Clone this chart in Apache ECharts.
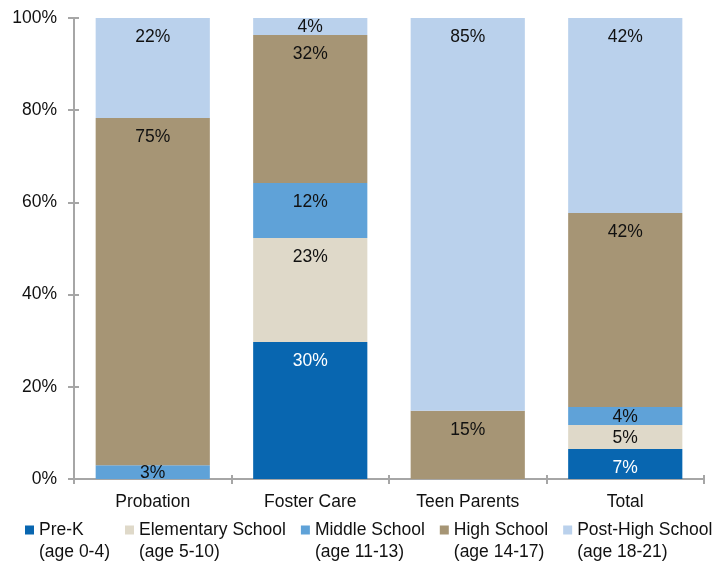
<!DOCTYPE html>
<html>
<head>
<meta charset="utf-8">
<script src="https://cdn.jsdelivr.net/npm/echarts@6/dist/echarts.min.js"></script>
<style>html,body{margin:0;padding:0;background:#fff}#c{width:716px;height:561px}</style>
</head>
<body>
<div id="c"></div>
<script>
var categories = ['Probation', 'Foster Care', 'Teen Parents', 'Total'];
var seriesNames = ['Pre-K\n(age 0-4)', 'Elementary School\n(age 5-10)', 'Middle School\n(age 11-13)', 'High School\n(age 14-17)', 'Post-High School\n(age 18-21)'];
var preK = [null, 29.7, null, 6.5];
var elementary = [null, 22.6, null, 5.2];
var middle = [3.0, 11.9, null, 3.9];
var high = [75.3, 32.1, 14.8, 42.1];
var postHigh = [21.7, 3.7, 85.2, 42.3];
var yTicks = [0, 20, 40, 60, 80, 100];

var colors = ['#0866B0', '#DFD9C9', '#5FA2D8', '#A69575', '#BAD1EC'];
var labelColors = ['#ffffff', '#111', '#111', '#111', '#111'];
var allData = [preK, elementary, middle, high, postHigh];
var FONT = 'Liberation Sans, Arial, sans-serif';
var FS = 17.5;
var axisGray = '#A6A6A6';

var series = allData.map(function (arr, i) {
  return {
    name: seriesNames[i],
    type: 'bar',
    stack: 'all',
    barWidth: '72.5%',
    xAxisIndex: 0,
    yAxisIndex: 0,
    itemStyle: { color: colors[i] },
    label: {
      show: true,
      color: labelColors[i],
      fontFamily: FONT,
      fontSize: FS,
      formatter: function (p) { return p.value == null ? '' : Math.round(p.value) + '%'; }
    },
    data: arr.map(function (v) {
      return {
        value: v,
        label: (v != null && v < 6) ? { position: 'inside', offset: [0, 1] } : { position: 'insideTop', distance: 10 }
      };
    })
  };
});

var chart = echarts.init(document.getElementById('c'), null, { renderer: 'canvas' });
chart.setOption({
  animation: false,
  backgroundColor: '#ffffff',
  grid: { left: 74, right: 12, top: 18, bottom: 82 },
  legend: {
    left: 25,
    top: 519,
    padding: 0,
    width: 720,
    itemGap: 15,
    itemWidth: 9,
    itemHeight: 31,
    icon: 'path://M0,0h9v9h-9zM0,31h0.01v0.01h-0.01z',
    textStyle: { fontFamily: FONT, fontSize: FS, color: '#111', lineHeight: 22 },
    data: seriesNames
  },
  xAxis: [{
    type: 'category',
    data: categories,
    axisLine: { lineStyle: { color: axisGray, width: 2 } },
    axisTick: { show: true, alignWithLabel: false, length: 5, lineStyle: { color: axisGray, width: 2 } },
    axisLabel: { fontFamily: FONT, fontSize: FS, color: '#111', margin: 14 }
  }, {
    type: 'category',
    data: categories,
    position: 'bottom',
    axisLine: { show: false },
    axisTick: { show: true, inside: true, length: 4, lineStyle: { color: axisGray, width: 2 } },
    axisLabel: { show: false }
  }],
  yAxis: [{
    type: 'value',
    min: yTicks[0],
    max: yTicks[yTicks.length - 1],
    interval: 20,
    axisLine: { show: true, lineStyle: { color: axisGray, width: 2 } },
    axisTick: { show: true, length: 6, lineStyle: { color: axisGray, width: 2 } },
    splitLine: { show: false },
    axisLabel: { fontFamily: FONT, fontSize: FS, color: '#111', margin: 17, formatter: '{value}%' }
  }, {
    type: 'value',
    position: 'left',
    min: yTicks[0],
    max: yTicks[yTicks.length - 1],
    interval: 20,
    axisLine: { show: false },
    axisTick: { show: true, inside: true, length: 5, lineStyle: { color: axisGray, width: 2 } },
    splitLine: { show: false },
    axisLabel: { show: false }
  }],
  series: series
});
</script>
</body>
</html>
